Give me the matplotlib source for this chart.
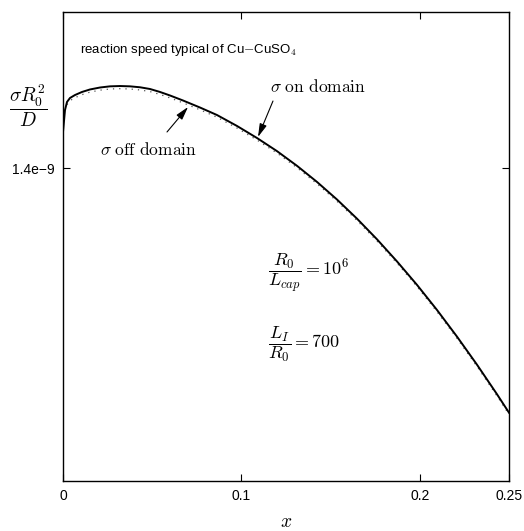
import matplotlib
matplotlib.use("Agg")
import matplotlib.pyplot as plt

plt.rcParams["font.family"] = ["Liberation Sans", "DejaVu Sans"]
plt.rcParams["mathtext.fontset"] = "cm"

# growth rate sigma*R0^2/D (units of 1e-9) versus x
x_on = [0.0, 0.00112, 0.00224, 0.00392, 0.00673, 0.01065, 0.01513, 0.02074,
        0.02635, 0.03195, 0.03756, 0.04316, 0.04877, 0.05437, 0.05998,
        0.06726, 0.07679, 0.08632, 0.09753, 0.10874, 0.11996, 0.13117,
        0.14238, 0.15359, 0.16480, 0.17601, 0.18722, 0.19843, 0.20964,
        0.22085, 0.23206, 0.24327, 0.25]
sigma_on = [1.4465, 1.4746, 1.4849, 1.4900, 1.4938, 1.4977, 1.5009, 1.5034,
            1.5049, 1.5053, 1.5049, 1.5037, 1.5015, 1.4977, 1.4932,
            1.4868, 1.4778, 1.4682, 1.4542, 1.4388, 1.4220, 1.4032,
            1.3826, 1.3601, 1.3356, 1.3092, 1.2809, 1.2509, 1.2188,
            1.1847, 1.1488, 1.1110, 1.0874]

x_off = [0.00224, 0.00392, 0.00673, 0.01065, 0.01513, 0.02074,
         0.02635, 0.03195, 0.03756, 0.04316, 0.04877, 0.05437, 0.05998,
         0.06726, 0.07679, 0.08632, 0.09753, 0.10874, 0.11996, 0.13117,
         0.14238, 0.15359, 0.16480, 0.17601, 0.18722, 0.19843, 0.20964,
         0.22085, 0.23206, 0.24327, 0.25]
sigma_off = [1.4815, 1.4866, 1.4904, 1.4943, 1.4975, 1.5000,
             1.5015, 1.5019, 1.5015, 1.5003, 1.4982, 1.4945, 1.4901,
             1.4838, 1.4749, 1.4654, 1.4515, 1.4362, 1.4195, 1.4008,
             1.3802, 1.3578, 1.3333, 1.3069, 1.2787, 1.2487, 1.2166,
             1.1825, 1.1466, 1.1088, 1.0852]
scale = 1e-9

x_ticks = [0, 0.1, 0.2, 0.25]
x_tick_labels = ["0", "0.1", "0.2", "0.25"]
y_ticks = [1.4e-9]
y_tick_labels = ["1.4e\u22129"]

fig = plt.figure(figsize=(5.24, 5.31), dpi=100)
ax = fig.add_axes([63 / 524, 50 / 531, 446 / 524, 469 / 531])

ax.plot(x_off, [v * scale for v in sigma_off], color="#555555",
        linestyle=(0, (1, 4)), linewidth=0.9)
ax.plot(x_on, [v * scale for v in sigma_on], color="black", linewidth=1.4)

ax.set_xlim(0, 0.25)
ax.set_ylim(1.0e-9, 1.6e-9)
ax.set_xticks(x_ticks)
ax.set_xticklabels(x_tick_labels)
ax.set_yticks(y_ticks)
ax.set_yticklabels(y_tick_labels)
ax.tick_params(direction="in", top=True, right=True, length=5, width=0.8,
               labelsize=10, pad=6)
for s in ax.spines.values():
    s.set_linewidth(1.0)

ax.set_xlabel(r"$x$", fontsize=14, labelpad=8)
fig.text(28 / 524, 1 - 106 / 531, r"$\dfrac{\sigma R_0^2}{D}$", fontsize=14,
         ha="center", va="center")

ax.text(0.0095, 1.552e-9, r"reaction speed typical of Cu$-$CuSO$_4$",
        fontsize=9.5, ha="left", va="center")

arrow_style = dict(arrowstyle="-|>,head_length=0.8,head_width=0.22",
                   color="black", lw=0.8, mutation_scale=10,
                   shrinkA=0, shrinkB=0)

ax.text(0.116, 1.505e-9, r"$\sigma\ \mathrm{on\ domain}$", fontsize=12.5,
        ha="left", va="center")
ax.annotate("", xy=(0.1093, 1.4401e-9), xytext=(0.1177, 1.4861e-9),
            arrowprops=arrow_style)

ax.text(0.0207, 1.4235e-9, r"$\sigma\ \mathrm{off\ domain}$", fontsize=12.5,
        ha="left", va="center")
ax.annotate("", xy=(0.0701, 1.4785e-9), xytext=(0.0583, 1.4465e-9),
            arrowprops=arrow_style)

ax.text(0.1150, 1.267e-9, r"$\dfrac{R_0}{L_{cap}} = 10^6$", fontsize=13,
        ha="left", va="center")
ax.text(0.1150, 1.1745e-9, r"$\dfrac{L_I}{R_0} = 700$", fontsize=13,
        ha="left", va="center")

fig.savefig("out.png", dpi=100)
